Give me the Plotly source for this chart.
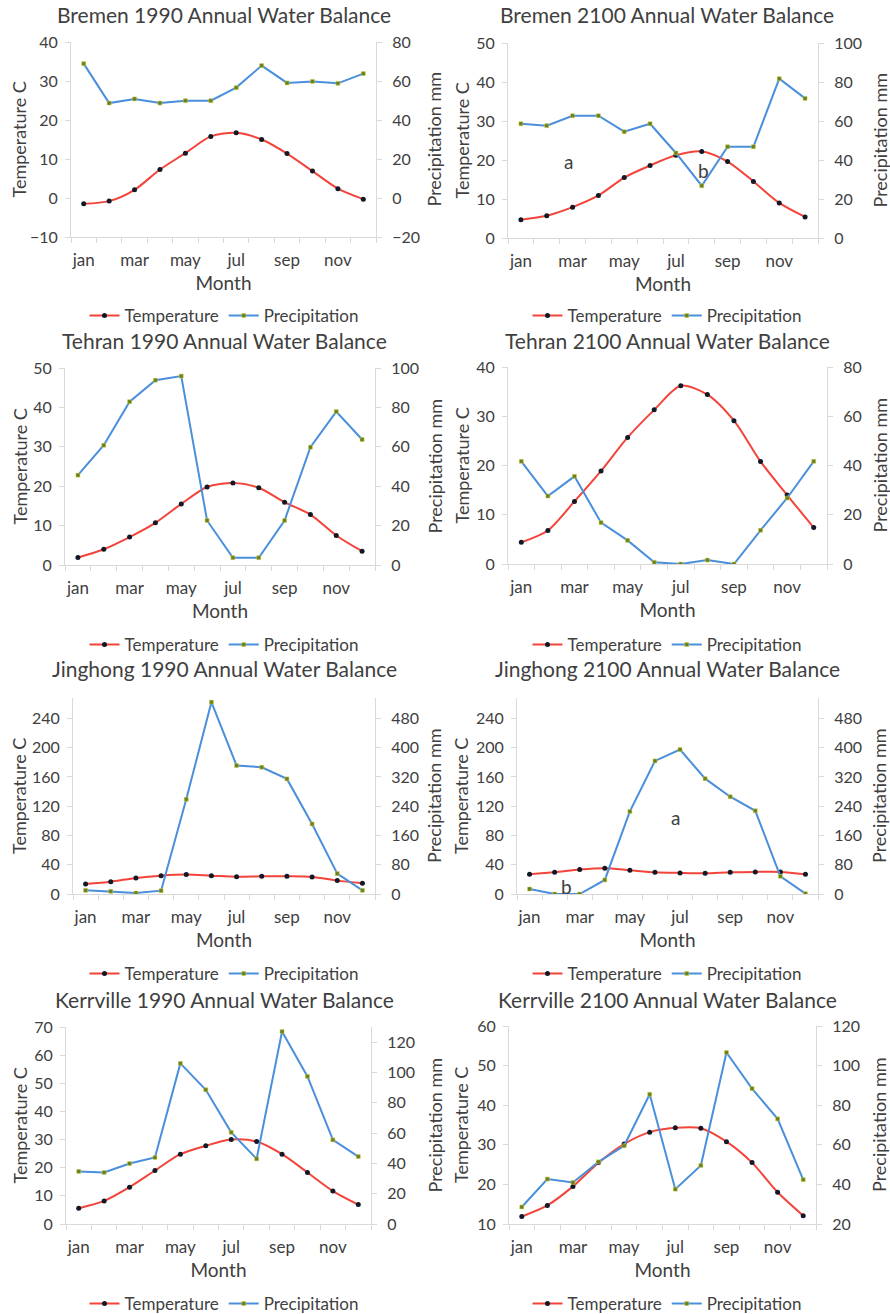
import plotly.graph_objects as go

months = ["jan", "feb", "mar", "apr", "may", "jun", "jul", "aug", "sep", "oct", "nov", "dec"]

titles = [
    "Bremen 1990 Annual Water Balance",
    "Bremen 2100 Annual Water Balance",
    "Tehran 1990 Annual Water Balance",
    "Tehran 2100 Annual Water Balance",
    "Jinghong 1990 Annual Water Balance",
    "Jinghong 2100 Annual Water Balance",
    "Kerrville 1990 Annual Water Balance",
    "Kerrville 2100 Annual Water Balance",
]

bremen_1990_temp = [-1.5, -0.8, 2.1, 7.3, 11.5, 15.8, 16.7, 15.0, 11.4, 6.9, 2.4, -0.3]
bremen_1990_prec = [68.9, 48.7, 50.8, 48.7, 49.9, 49.9, 56.6, 67.9, 59.0, 59.8, 58.8, 63.8]
bremen_2100_temp = [4.7, 5.7, 7.9, 10.9, 15.5, 18.6, 21.2, 22.2, 19.6, 14.5, 9.0, 5.4]
bremen_2100_prec = [58.6, 57.6, 62.7, 62.7, 54.5, 58.6, 43.6, 26.8, 46.8, 46.8, 81.7, 71.6]
tehran_1990_temp = [1.9, 4.0, 7.1, 10.7, 15.5, 19.8, 20.8, 19.6, 15.9, 12.8, 7.5, 3.5]
tehran_1990_prec = [45.6, 60.8, 82.9, 93.8, 95.9, 22.6, 3.7, 3.7, 22.6, 59.8, 77.9, 63.7]
tehran_2100_temp = [4.4, 6.8, 12.7, 18.9, 25.7, 31.3, 36.2, 34.4, 29.1, 20.8, 14.0, 7.4]
tehran_2100_prec = [41.7, 27.6, 35.6, 16.8, 9.6, 0.7, 0.0, 1.6, 0.0, 13.7, 26.8, 41.7]
jinghong_1990_temp = [13.7, 16.9, 21.9, 25.1, 26.5, 25.1, 23.7, 24.2, 24.2, 23.3, 18.3, 14.6]
jinghong_1990_prec = [10.0, 7.3, 2.7, 9.1, 259.0, 524.7, 351.3, 346.7, 314.8, 191.6, 55.7, 10.0]
jinghong_2100_temp = [27.0, 29.7, 33.4, 35.2, 32.5, 29.7, 28.8, 28.3, 29.7, 30.2, 30.2, 27.0]
jinghong_2100_prec = [13.7, 0.0, 0.0, 38.4, 225.8, 363.9, 395.0, 315.4, 266.0, 227.6, 48.5, 0.9]
kerrville_1990_temp = [5.6, 8.2, 13.1, 19.0, 24.8, 27.8, 30.0, 29.3, 24.8, 18.3, 11.7, 6.9]
kerrville_1990_prec = [34.7, 34.0, 39.9, 43.9, 106.0, 88.6, 60.5, 43.0, 127.0, 97.4, 55.5, 44.5]
kerrville_2100_temp = [11.9, 14.7, 19.5, 25.5, 30.2, 33.2, 34.3, 34.2, 30.8, 25.5, 18.0, 12.1]
kerrville_2100_prec = [28.6, 42.7, 41.0, 51.4, 59.5, 85.5, 37.6, 49.6, 106.6, 88.4, 73.1, 42.4]

temps = [bremen_1990_temp, bremen_2100_temp, tehran_1990_temp, tehran_2100_temp,
         jinghong_1990_temp, jinghong_2100_temp, kerrville_1990_temp, kerrville_2100_temp]
precs = [bremen_1990_prec, bremen_2100_prec, tehran_1990_prec, tehran_2100_prec,
         jinghong_1990_prec, jinghong_2100_prec, kerrville_1990_prec, kerrville_2100_prec]

# axis ranges (left temp, right precip) and tick steps
left_ranges = [(-10, 40, 10), (0, 50, 10), (0, 50, 10), (0, 40, 10),
               (0, 268, 40), (0, 268, 40), (0, 70, 10), (10, 60, 10)]
right_ranges = [(-20, 80, 20), (0, 100, 20), (0, 100, 20), (0, 80, 20),
                (0, 536, 80), (0, 536, 80), (0, 130, 20), (20, 120, 20)]

# text labels inside panels: (panel index, x month position, temperature value, text)
labels = [(1, 2.86, 19.7, "a"), (1, 8.05, 17.4, "b"),
          (5, 6.8, 105, "a"), (5, 2.49, 9.6, "b")]

# layout geometry (pixels)
W, H = 890, 1314
boxes = [(71, 376, 42, 237), (508, 818, 43, 238),
         (65, 375, 368, 565), (508, 827, 367, 564),
         (73, 375, 698, 894), (517, 818, 698, 894),
         (66, 371, 1027, 1224), (509, 816, 1026, 1224)]
title_y = [15, 15, 340, 340, 668, 668, 999, 999]
legend_y = [316, 316, 645, 645, 974, 974, 1304, 1304]
centers_x = [224, 667]
ltitle_x = [19, 461]
rtitle_x = [434, 879]

FONT = "Lato"
TXT = "#404040"
AX = "#d9d9d9"
RED = "#f2443b"
BLUE = "#4a8fdb"

xs = list(range(1, len(months) + 1))

fig = go.Figure()
layout = dict(width=W, height=H, margin=dict(l=0, r=0, t=0, b=0, autoexpand=False),
              paper_bgcolor="white", plot_bgcolor="white",
              font=dict(family=FONT, color=TXT, size=15),
              annotations=[])

for i in range(8):
    xid = "x" if i == 0 else f"x{i+1}"
    ylid = "y" if i == 0 else f"y{2*i+1}"
    yrid = f"y{2*i+2}"
    leg = "legend" if i == 0 else f"legend{i+1}"
    fig.add_trace(go.Scatter(
        x=xs, y=temps[i], xaxis=xid, yaxis=ylid, name="Temperature",
        mode="lines+markers",
        line=dict(color=RED, width=2, shape="spline", smoothing=0.8),
        marker=dict(color="#111827", size=5), legend=leg))
    fig.add_trace(go.Scatter(
        x=xs, y=precs[i], xaxis=xid, yaxis=yrid, name="Precipitation",
        mode="lines+markers",
        line=dict(color=BLUE, width=2),
        marker=dict(color="#6f7d1e", size=4, symbol="square",
                    line=dict(color="#c8d84a", width=0.5)), legend=leg))

    x0, x1, y0, y1 = boxes[i]
    xdom = [x0 / W, x1 / W]
    ydom = [1 - y1 / H, 1 - y0 / H]
    xkey = "xaxis" if i == 0 else f"xaxis{i+1}"
    ylkey = "yaxis" if i == 0 else f"yaxis{2*i+1}"
    yrkey = f"yaxis{2*i+2}"
    layout[xkey] = dict(
        domain=xdom, anchor=ylid, range=[0.5, len(months) + 0.5],
        tickmode="array", tickvals=xs[::2], ticktext=months[::2], ticks="",
        ticklabelstandoff=8,
        showline=True, linecolor=AX, linewidth=1, showgrid=False, zeroline=False,
        minor=dict(tickmode="array", tickvals=[v - 0.5 for v in xs] + [len(months) + 0.5],
                   ticks="outside", ticklen=5, tickcolor=AX),
        tickfont=dict(size=17, color=TXT),
        title=dict(text="Month", font=dict(size=19, color=TXT), standoff=7))
    lo, hi, dt = left_ranges[i]
    layout[ylkey] = dict(
        domain=ydom, anchor=xid, range=[lo, hi], tickmode="linear", tick0=lo, dtick=dt,
        showline=True, linecolor=AX, linewidth=1, ticks="outside", ticklen=5, tickcolor=AX,
        ticklabelstandoff=4,
        showgrid=False, zeroline=False, tickfont=dict(size=16, color=TXT))
    lo, hi, dt = right_ranges[i]
    layout[yrkey] = dict(
        overlaying=ylid, side="right", anchor=xid, range=[lo, hi], tickmode="linear", tick0=lo, dtick=dt,
        showline=True, linecolor=AX, linewidth=1, ticks="outside", ticklen=5, tickcolor=AX,
        ticklabelstandoff=7,
        showgrid=False, zeroline=False, tickfont=dict(size=16, color=TXT))
    layout[leg] = dict(
        orientation="h", x=centers_x[i % 2] / W, xanchor="center",
        y=1 - legend_y[i] / H, yanchor="middle", font=dict(size=17, color=TXT),
        itemwidth=30, bgcolor="rgba(0,0,0,0)", tracegroupgap=0)
    layout["annotations"].append(dict(
        text=titles[i], x=centers_x[i % 2] / W, y=1 - title_y[i] / H,
        xref="paper", yref="paper", xanchor="center", yanchor="middle",
        showarrow=False, font=dict(size=21, color=TXT)))
    ymid = 1 - (y0 + y1) / 2 / H
    layout["annotations"].append(dict(
        text="Temperature C", x=ltitle_x[i % 2] / W, y=ymid, textangle=-90,
        xref="paper", yref="paper", xanchor="center", yanchor="middle",
        showarrow=False, font=dict(size=18, color=TXT)))
    layout["annotations"].append(dict(
        text="Precipitation mm", x=rtitle_x[i % 2] / W, y=ymid, textangle=-90,
        xref="paper", yref="paper", xanchor="center", yanchor="middle",
        showarrow=False, font=dict(size=18, color=TXT)))

for (p, xv, yv, t) in labels:
    layout["annotations"].append(dict(
        text=t, x=xv, y=yv, xref=("x" if p == 0 else f"x{p+1}"),
        yref=("y" if p == 0 else f"y{2*p+1}"), showarrow=False,
        font=dict(size=19, color=TXT)))

fig.update_layout(**layout)
fig.write_html("out.html", config={"displayModeBar": False},
               post_script="document.body.style.margin='0';")
